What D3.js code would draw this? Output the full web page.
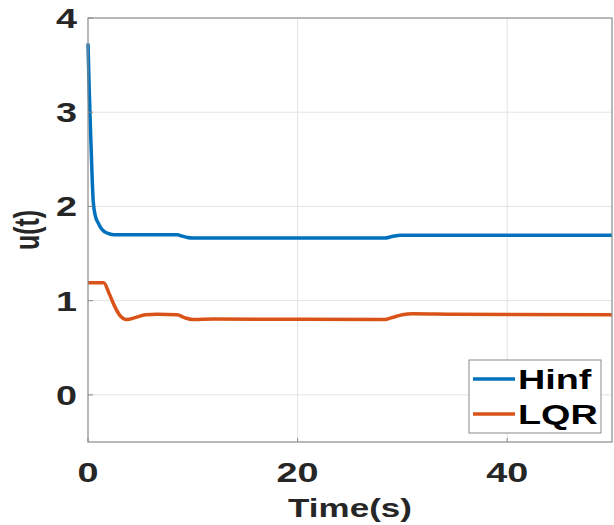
<!DOCTYPE html>
<html>
<head>
<meta charset="utf-8">
<script src="https://cdn.jsdelivr.net/npm/d3@7"></script>
<style>
  body { margin: 0; background: #fff; }
  text { font-family: 'Liberation Sans', Arial, sans-serif; font-weight: bold; }
</style>
</head>
<body>
<div id="graf"></div>
<script>
// datos
hinfT = [0, 0.1, 0.2, 0.35, 0.5, 0.7, 1.0, 1.3, 1.6, 2.0, 2.5, 8.5, 9.0, 9.5, 10, 28.3, 29, 29.8, 50]
hinfU = [3.73, 3.3, 2.95, 2.45, 2.05, 1.9, 1.82, 1.76, 1.73, 1.71, 1.70, 1.70, 1.685, 1.67, 1.665, 1.665, 1.68, 1.695, 1.695]

lqrT = [0, 1.5, 2.0, 2.5, 3.0, 3.7, 4.5, 5.5, 6.6, 8.5, 9.2, 10, 12, 28.3, 29, 30, 31, 35, 50]
lqrU = [1.19, 1.19, 1.08, 0.95, 0.85, 0.80, 0.82, 0.85, 0.855, 0.85, 0.82, 0.80, 0.805, 0.80, 0.82, 0.85, 0.86, 0.855, 0.85]

xTicks = [0, 20, 40]
yTicks = [0, 1, 2, 3, 4]
series = ['Hinf', 'LQR']
colores = ['#0072BD', '#D95319']

// la figura original está estirada a lo ancho
sx = 1.4

ancho_total = 614
alto_total = 525
margins = { top: 18, left: 88, right: 2, bottom: 83 }
ancho = ancho_total - margins.left - margins.right
alto = alto_total - margins.top - margins.bottom

svg = d3.select('#graf').append('svg')
        .attr('width', ancho_total)
        .attr('height', alto_total)

g = svg.append('g')
       .attr('transform', `translate(${margins.left}, ${margins.top})`)

x = d3.scaleLinear().domain([0, 50]).range([0, ancho])
y = d3.scaleLinear().domain([-0.5, 4]).range([alto, 0])

// rejilla
g.selectAll('.gx').data(xTicks.filter(d => d > 0))
  .enter().append('line')
    .attr('x1', d => x(d)).attr('x2', d => x(d))
    .attr('y1', 0).attr('y2', alto)
    .attr('stroke', '#e3e3e3').attr('stroke-width', 1)

g.selectAll('.gy').data(yTicks.filter(d => d < 4))
  .enter().append('line')
    .attr('x1', 0).attr('x2', ancho)
    .attr('y1', d => y(d)).attr('y2', d => y(d))
    .attr('stroke', '#e3e3e3').attr('stroke-width', 1)

// curvas
linea = d3.line()
          .x(d => x(d[0]))
          .y(d => y(d[1]))
          .curve(d3.curveMonotoneX)

datos = [d3.zip(hinfT, hinfU), d3.zip(lqrT, lqrU)]

g.selectAll('.serie').data(datos)
  .enter().append('path')
    .attr('d', linea)
    .attr('fill', 'none')
    .attr('stroke', (d, i) => colores[i])
    .attr('stroke-width', 3.5)
    .attr('stroke-linejoin', 'round')

// caja de ejes
g.append('rect')
  .attr('x', 0).attr('y', 0)
  .attr('width', ancho).attr('height', alto)
  .attr('fill', 'none')
  .attr('stroke', '#8a8a8a').attr('stroke-width', 1.2)

// marcas pequeñas
g.selectAll('.tx').data(xTicks)
  .enter().append('line')
    .attr('x1', d => x(d)).attr('x2', d => x(d))
    .attr('y1', alto).attr('y2', alto - 4)
    .attr('stroke', '#8a8a8a')
g.selectAll('.ty').data(yTicks)
  .enter().append('line')
    .attr('x1', 0).attr('x2', 5)
    .attr('y1', d => y(d)).attr('y2', d => y(d))
    .attr('stroke', '#8a8a8a')

// etiquetas de ticks
g.selectAll('.lx').data(xTicks)
  .enter().append('text')
    .attr('transform', d => `translate(${x(d)}, ${alto + 40}) scale(${sx},1)`)
    .attr('text-anchor', 'middle')
    .attr('font-size', '27px')
    .attr('fill', '#262626')
    .text(d => d)

g.selectAll('.ly').data(yTicks)
  .enter().append('text')
    .attr('transform', d => `translate(-11, ${y(d) + 10}) scale(${sx},1)`)
    .attr('text-anchor', 'end')
    .attr('font-size', '27px')
    .attr('fill', '#262626')
    .text(d => d)

// títulos de ejes
g.append('text')
  .attr('transform', `translate(${ancho / 2}, ${alto + 75}) scale(${sx},1)`)
  .attr('text-anchor', 'middle')
  .attr('font-size', '25px')
  .attr('fill', '#262626')
  .text('Time(s)')

g.append('text')
  .attr('transform', `translate(${39 - margins.left}, ${230 - margins.top}) scale(${sx},1) rotate(-90)`)
  .attr('text-anchor', 'middle')
  .attr('font-size', '25px')
  .attr('fill', '#262626')
  .text('u(t)')

// leyenda
leyenda = svg.append('g')
leyenda.append('rect')
  .attr('x', 469).attr('y', 360)
  .attr('width', 132).attr('height', 73)
  .attr('fill', '#fff')
  .attr('stroke', '#8a8a8a').attr('stroke-width', 1)

series.forEach((s, i) => {
  ly = 379 + i * 35
  leyenda.append('line')
    .attr('x1', 473).attr('x2', 515)
    .attr('y1', ly).attr('y2', ly)
    .attr('stroke', colores[i]).attr('stroke-width', 3.5)
  leyenda.append('text')
    .attr('transform', `translate(518, ${ly + 10}) scale(${sx},1)`)
    .attr('font-size', '27px')
    .attr('fill', '#000')
    .text(s)
})
</script>
</body>
</html>
